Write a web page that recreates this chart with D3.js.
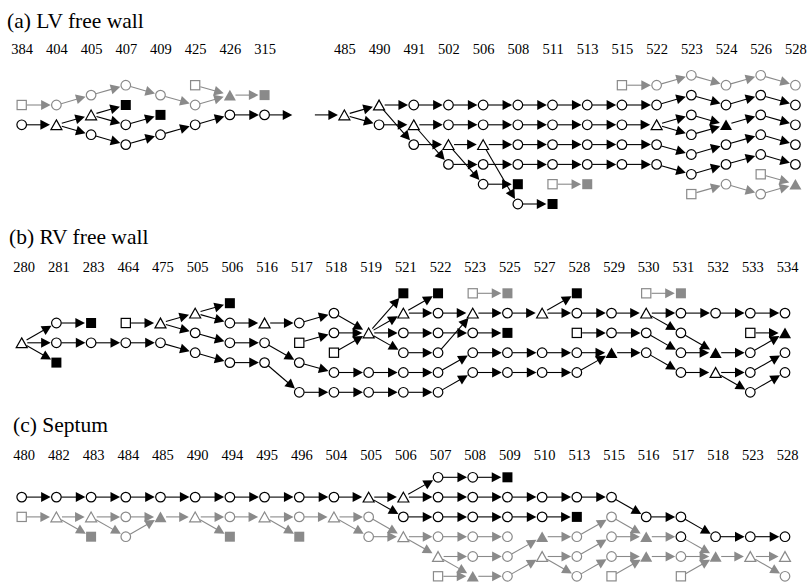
<!DOCTYPE html>
<html><head><meta charset="utf-8">
<script src="https://cdn.jsdelivr.net/npm/d3@7"></script>
<style>body{margin:0;background:#fff}svg{display:block}</style>
</head><body>
<svg id="chart" width="809" height="583"></svg>
<script>
// ---------- data ----------
const titles = ["(a) LV free wall", "(b) RV free wall", "(c) Septum"];
const labelsA1 = ["384","404","405","407","409","425","426","315"];
const labelsA2 = ["485","490","491","502","506","508","511","513","515","522","523","524","526","528"];
const labelsB = ["280","281","283","464","475","505","506","516","517","518","519","521","522","523","525","527","528","529","530","531","532","533","534"];
const labelsC = ["480","482","483","484","485","490","494","495","496","504","505","506","507","508","509","510","513","515","516","517","518","523","528"];

// node = "column,level,shape"  (o circle, s square, S filled square, t triangle, T filled triangle, x stub; g = grey)
const nodesA1 = "0,2,gs 1,2,go 2,1,go 3,0,go 4,1,go 5,2,go 5,0,gs 6,1,gT 7,1,gS 0,4,o 1,4,t 2,3,t 2,5,o 3,2,S 3,4,o 3,6,o 4,3,S 4,5,o 5,4,o 6,3,o 7,3,o 7.8,3,x".split(" ");
const chainsA1 = ["0,2 1,2 2,1 3,0 4,1 5,2 6,1 7,1", "5,0 6,1", "0,4 1,4 2,3 3,4 4,3", "2,3 3,2", "1,4 2,5 3,6 4,5 5,4 6,3 7,3 7.8,3"];

const nodesA2 = "-0.85,3,x 0,3,t 1,2,t 1,4,o 2,2,o 3,2,o 4,2,o 5,2,o 6,2,o 7,2,o 8,2,o 9,2,o 10,1,o 11,2,o 12,1,o 13,2,o 2,4,t 3,4,o 4,4,o 5,4,o 6,4,o 7,4,o 8,4,o 9,4,t 10,3,o 10,5,o 11,4,T 12,3,o 13,4,o 2,6,o 3,6,t 4,6,t 5,6,o 6,6,o 7,6,o 8,6,o 9,6,o 10,7,o 11,6,o 12,5,o 13,6,o 3,8,o 4,8,o 5,8,o 6,8,o 7,8,o 8,8,o 9,8,o 10,9,o 11,8,o 12,7,o 13,8,o 4,10,o 5,10,S 5,12,o 6,12,S 8,0,gs 9,0,go 10,-1,go 11,0,go 12,-1,go 13,0,go 6,10,gs 7,10,gS 10,11,gs 11,10,go 12,11,go 13,10,gT 12,9,gs".split(" ");
const chainsA2 = [
  "-0.85,3 0,3 1,2 2,2 3,2 4,2 5,2 6,2 7,2 8,2 9,2 10,1 11,2 12,1 13,2",
  "0,3 1,4 2,4 3,4 4,4 5,4 6,4 7,4 8,4 9,4 10,3 11,4 12,3 13,4",
  "9,4 10,5 11,4",
  "1,2 2,6 3,6 4,6 5,6 6,6 7,6 8,6 9,6 10,7 11,6 12,5 13,6",
  "2,4 3,8 4,8 5,8 6,8 7,8 8,8 9,8 10,9 11,8 12,7 13,8",
  "3,6 4,10 5,10", "4,6 5,12 6,12",
  "8,0 9,0 10,-1 11,0 12,-1 13,0", "6,10 7,10",
  "10,11 11,10 12,11 13,10", "12,9 13,10"];

const nodesB = "0,5,t 1,3,o 1,5,o 1,7,S 2,3,S 2,5,o 3,3,s 3,5,o 4,3,t 4,5,o 5,2,t 5,4,o 5,6,o 6,1,S 6,3,o 6,5,o 6,7,o 7,3,t 7,5,o 7,7,o 8,3,o 8,5,s 8,7,o 8,10,o 9,2,o 9,4,o 9,6,s 9,8,o 9,10,o 10,4,t 10,8,o 10,10,o 11,0,S 11,2,t 11,4,o 11,6,o 11,8,o 11,10,o 12,0,S 12,2,o 12,4,o 12,6,o 12,8,o 12,10,o 13,0,gs 13,2,t 13,4,o 13,6,o 13,8,o 14,0,gS 14,2,o 14,4,S 14,6,o 14,8,o 15,2,t 15,6,o 15,8,o 16,0,S 16,2,o 16,4,s 16,6,o 16,8,o 17,2,o 17,4,o 17,6,T 18,0,gs 18,2,t 18,4,o 18,6,o 19,0,gS 19,2,o 19,4,o 19,6,o 19,8,o 20,2,o 20,6,T 20,8,t 21,2,o 21,4,s 21,6,o 21,8,o 21,10,o 22,2,o 22,4,T 22,6,o 22,8,o".split(" ");
const chainsB = [
  "0,5 1,3 2,3", "0,5 1,7",
  "0,5 1,5 2,5 3,5 4,5 5,6 6,7 7,7 8,10 9,10 10,10 11,10 12,10 13,8 14,8 15,8 16,8 17,6",
  "3,3 4,3 5,2 6,1",
  "4,3 5,4 6,5 7,5 8,7 9,8 10,8 11,8 12,8 13,6 14,6 15,6 16,6 17,6 18,6 19,8 20,8 21,8 22,6",
  "5,2 6,3 7,3 8,3 9,2 10,4", "8,5 9,4 10,4", "9,6 10,4",
  "10,4 11,0", "10,4 11,2 12,2 13,2 14,2 15,2 16,2 17,2 18,2 19,2 20,2 21,2 22,2",
  "11,2 12,0", "10,4 11,4 12,4 13,4 14,4", "10,4 11,6 12,6 13,2", "15,2 16,0",
  "13,0 14,0", "18,0 19,0",
  "16,4 17,4 18,4 19,6 20,6 21,6 22,4", "18,2 19,4 20,6", "21,4 22,4", "20,8 21,10 22,8"];

const nodesC = "0,2,o 1,2,o 2,2,o 3,2,o 4,2,o 5,2,o 6,2,o 7,2,o 8,2,o 9,2,o 10,2,t 11,2,t 12,2,o 13,2,o 14,2,o 15,2,o 16,2,o 17,2,o 18,4,o 19,4,o 20,6,o 21,6,o 22,6,o 12,0,o 13,0,o 14,0,S 11,4,o 12,4,o 13,4,o 14,4,o 15,4,o 16,4,S 19,6,o 0,4,gs 1,4,gt 2,4,gt 3,4,go 4,4,gT 5,4,gt 6,4,go 7,4,gt 8,4,go 9,4,gt 10,4,go 17,4,go 2,6,gS 3,6,go 6,6,gS 8,6,gS 10,6,go 11,6,gt 12,6,go 13,6,go 14,6,go 15,6,gT 16,6,go 17,6,go 18,6,gT 12,8,gt 13,8,go 14,8,go 15,8,gt 16,8,go 17,8,go 18,8,gT 19,8,go 20,8,gT 21,8,gt 22,8,gt 12,10,gs 13,10,gT 14,10,go 16,10,go 17,10,gs 19,10,gs 22,10,go".split(" ");
const chainsC = [
  "0,2 1,2 2,2 3,2 4,2 5,2 6,2 7,2 8,2 9,2 10,2 11,2 12,2 13,2 14,2 15,2 16,2 17,2 18,4 19,4 20,6 21,6 22,6",
  "11,2 12,0 13,0 14,0", "10,2 11,4 12,4 13,4 14,4 15,4 16,4",
  "0,4 1,4 2,4 3,4 4,4 5,4 6,4 7,4 8,4 9,4 10,4 11,6",
  "1,4 2,6", "2,4 3,6 4,4", "5,4 6,6", "7,4 8,6",
  "9,4 10,6 11,6 12,6 13,6 14,6",
  "11,6 12,8 13,8 14,8 15,6 16,6 17,4 18,6 19,6 20,8 21,8 22,8",
  "12,8 13,10 14,10 15,8 16,8 17,6 18,6", "12,10 13,10",
  "15,8 16,10 17,8 18,8 19,8 20,8", "17,10 18,8", "19,10 20,8", "21,8 22,10"];

// ---------- layout ----------
const panels = [
  {title: titles[0], tx: 7, ty: 28, ly: 54, y0: 85.2, dx: 0.5,
   groups: [{labels: labelsA1, start: 0, nodes: nodesA1, chains: chainsA1},
            {labels: labelsA2, start: 9.3, nodes: nodesA2, chains: chainsA2}]},
  {title: titles[1], tx: 9, ty: 244.3, ly: 271.5, y0: 293.3, dx: 2.5,
   groups: [{labels: labelsB, start: 0, nodes: nodesB, chains: chainsB}]},
  {title: titles[2], tx: 13, ty: 431.7, ly: 460, y0: 477.3, dx: 2.5,
   groups: [{labels: labelsC, start: 0, nodes: nodesC, chains: chainsC}]}
];

const FONT = "'Liberation Serif','Times New Roman',serif";
const GRAY = "#8a8a8a";
const X = d3.scaleLinear().domain([0, 22]).range([21.7, 785]);
const RAD = {o: 4.9, s: 5.3, S: 5.3, t: 5.6, T: 5.6, x: 0};
const AL = 9.6, AW = 5.0;

const svg = d3.select("#chart");

panels.forEach(p => {
  const Y = d3.scaleLinear().domain([0, 1]).range([p.y0, p.y0 + 9.9]);
  svg.append("text").attr("x", p.tx).attr("y", p.ty)
    .attr("font-family", FONT).attr("font-size", 21.5).text(p.title);

  p.groups.forEach(g => {
    const gx = c => X(g.start + c);
    svg.append("g").selectAll("text").data(g.labels).join("text")
      .attr("x", (d, i) => gx(i) + p.dx).attr("y", p.ly)
      .attr("text-anchor", "middle").attr("font-family", FONT).attr("font-size", 14.5)
      .text(d => d);

    const nodes = new Map();
    g.nodes.forEach(s => {
      const [c, r, sh] = s.split(",");
      const gray = sh[0] === "g";
      nodes.set(c + "," + r, {c: +c, r: +r, shape: gray ? sh.slice(1) : sh, gray});
    });
    const edges = [];
    g.chains.forEach(ch => {
      const ids = ch.split(" ");
      for (let i = 1; i < ids.length; i++) edges.push([nodes.get(ids[i - 1]), nodes.get(ids[i])]);
    });

    const eg = svg.append("g");
    edges.forEach(([a, b]) => {
      const ax = gx(a.c), ay = Y(a.r), bx = gx(b.c), by = Y(b.r);
      const dx = bx - ax, dy = by - ay, L = Math.hypot(dx, dy);
      const ux = dx / L, uy = dy / L;
      const col = (a.gray || b.gray) ? GRAY : "#000";
      const ra = RAD[a.shape], rb = RAD[b.shape] + (b.shape === "x" ? 0 : 0.8);
      const sx = ax + ux * ra, sy = ay + uy * ra;
      const tx = bx - ux * rb, ty = by - uy * rb;
      const bxx = tx - ux * AL, byy = ty - uy * AL;
      eg.append("line").attr("x1", sx).attr("y1", sy).attr("x2", bxx + ux).attr("y2", byy + uy)
        .attr("stroke", col).attr("stroke-width", 1.1);
      const nx = -uy, ny = ux;
      eg.append("path")
        .attr("d", `M${tx},${ty}L${bxx + nx * AW},${byy + ny * AW}L${bxx - nx * AW},${byy - ny * AW}Z`)
        .attr("fill", col);
    });

    const ng = svg.append("g");
    for (const n of nodes.values()) {
      if (n.shape === "x") continue;
      const cx = gx(n.c), cy = Y(n.r), col = n.gray ? GRAY : "#000";
      const filled = n.shape === "S" || n.shape === "T";
      const fill = filled ? col : "#fff";
      if (n.shape === "o") {
        ng.append("circle").attr("cx", cx).attr("cy", cy).attr("r", 4.8)
          .attr("fill", fill).attr("stroke", col).attr("stroke-width", 1.2);
      } else if (n.shape === "s" || n.shape === "S") {
        const h = filled ? 5 : 4.6;
        ng.append("rect").attr("x", cx - h).attr("y", cy - h).attr("width", 2 * h).attr("height", 2 * h)
          .attr("fill", fill).attr("stroke", filled ? "none" : col).attr("stroke-width", 1.2);
      } else {
        const w = filled ? 6 : 5.5, t = filled ? 5.3 : 4.9;
        ng.append("path").attr("d", `M${cx},${cy - t}L${cx + w},${cy + t}L${cx - w},${cy + t}Z`)
          .attr("fill", fill).attr("stroke", filled ? "none" : col).attr("stroke-width", 1.2)
          .attr("stroke-linejoin", "miter");
      }
    }
  });
});
</script>
</body></html>
